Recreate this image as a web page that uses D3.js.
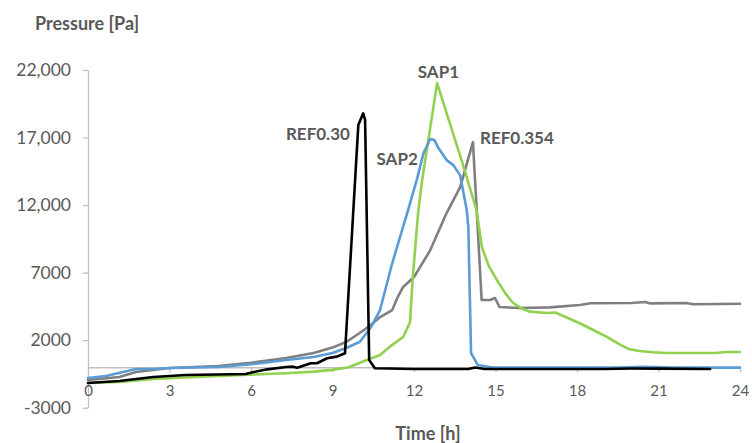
<!DOCTYPE html>
<html>
<head>
<meta charset="utf-8">
<script src="https://cdn.jsdelivr.net/npm/d3@7"></script>
<style>
  html, body { margin: 0; padding: 0; background: #ffffff; }
  svg { display: block; font-family: Lato, "Open Sans", sans-serif; }
</style>
</head>
<body>
<svg id="chart" width="752" height="443"></svg>
<script>
// ---- data (time in hours, pressure in Pa) ----
const seriesNames = ["REF0.354", "SAP1", "SAP2", "REF0.30"];

const timeREF0354 = [0, 1.15, 1.77, 3, 4.8, 6.0, 7.3, 8.3, 9.0, 9.5, 10, 10.4, 10.75, 11.2, 11.4, 11.6, 12.0, 12.6, 13.2, 13.7, 14.17, 14.49, 14.8, 14.98, 15.15, 15.9, 17.0, 18.1, 18.5, 20.0, 20.5, 20.7, 22.0, 22.3, 24];
const pressREF0354 = [-950, -730, -360, -60, 90, 330, 680, 1050, 1450, 1860, 2530, 3100, 3710, 4230, 5190, 5940, 6670, 8670, 11410, 13330, 16660, 4970, 4970, 5120, 4450, 4380, 4430, 4600, 4730, 4750, 4820, 4720, 4750, 4660, 4690];

const timeSAP1 = [0, 1.15, 2.4, 4.8, 7.3, 8.3, 9.0, 9.6, 10.1, 10.75, 11.1, 11.6, 11.85, 11.95, 12.15, 12.3, 12.85, 13.75, 14.3, 14.5, 14.75, 15.05, 15.35, 15.65, 16.0, 16.27, 16.9, 17.2, 17.6, 18.1, 18.6, 19.1, 19.6, 19.9, 20.3, 20.8, 21.3, 23.1, 23.5, 24];
const pressSAP1 = [-1170, -1100, -870, -650, -450, -330, -200, 0, 400, 900, 1500, 2230, 3300, 6500, 11400, 13850, 21030, 15330, 11640, 8890, 7500, 6450, 5500, 4750, 4300, 4110, 4010, 4050, 3700, 3250, 2750, 2240, 1650, 1350, 1200, 1100, 1050, 1050, 1120, 1120];

const timeSAP2 = [0, 0.66, 1.77, 2.4, 3, 4.8, 6.0, 7.3, 8.3, 9.0, 9.5, 10, 10.4, 10.75, 11.2, 11.75, 12.1, 12.35, 12.6, 12.75, 12.9, 13.2, 13.45, 13.7, 13.94, 14.0, 14.1, 14.35, 14.9, 19.5, 20.5, 21.5, 24];
const pressSAP2 = [-800, -650, -130, -130, -60, 15, 220, 530, 750, 1050, 1420, 1860, 2900, 4230, 7710, 11410, 13850, 15850, 16890, 16810, 16220, 15330, 14960, 14200, 11640, 10400, 1050, 160, -30, -30, 30, -30, -30];

const timeREF030 = [0, 1.15, 2.4, 3.6, 5.8, 6.1, 6.6, 7.3, 7.55, 7.7, 8.2, 8.43, 8.8, 9.16, 9.46, 9.95, 10.13, 10.2, 10.35, 10.56, 12, 14, 14.25, 14.6, 17, 19, 20, 21, 22.9];
const pressREF030 = [-1170, -1020, -730, -580, -500, -360, -160, 15, 40, -40, 290, 290, 660, 780, 1030, 17920, 18790, 18300, 530, -80, -130, -130, -30, -130, -130, -130, -100, -110, -130];

const xTickValues = [0, 3, 6, 9, 12, 15, 18, 21, 24];
const xTickLabels = ["0", "3", "6", "9", "12", "15", "18", "21", "24"];
const yTickValues = [-3000, 2000, 7000, 12000, 17000, 22000];
const yTickLabels = ["-3000", "2000", "7000", "12,000", "17,000", "22,000"];

const yTitle = "Pressure [Pa]";
const xTitle = "Time [h]";

// ---- build ----
const series = [
  { name: "REF0.354", t: timeREF0354, v: pressREF0354, color: "#7f7f7f" },
  { name: "SAP1", t: timeSAP1, v: pressSAP1, color: "#92d050" },
  { name: "SAP2", t: timeSAP2, v: pressSAP2, color: "#5b9bd5" },
  { name: "REF0.30", t: timeREF030, v: pressREF030, color: "#000000" }
];

const svg = d3.select("#chart");
const x = d3.scaleLinear().domain([0, 24]).range([88, 740]);
const y = d3.scaleLinear().domain([-3000, 22000]).range([407.7, 70]);

const axisColor = "#bfbfbf";
const textColor = "#595959";

// y axis
const yAxis = svg.append("g")
  .attr("transform", `translate(${x(0)},0)`)
  .call(d3.axisLeft(y).tickValues(yTickValues).tickSize(5).tickSizeOuter(0).tickPadding(12)
    .tickFormat((d, i) => yTickLabels[i]));
yAxis.select(".domain").attr("stroke", axisColor).attr("stroke-width", 1.3);
yAxis.selectAll(".tick line").attr("stroke", axisColor).attr("stroke-width", 1.3);
yAxis.selectAll(".tick text").attr("fill", textColor).attr("font-size", "17.5px")
  .attr("font-family", "Lato, sans-serif");

// x axis at y = 0
const xAxis = svg.append("g")
  .attr("transform", `translate(0,${y(0)})`)
  .call(d3.axisBottom(x).tickValues(xTickValues).tickSize(5).tickSizeOuter(0).tickPadding(13)
    .tickFormat((d, i) => xTickLabels[i]));
xAxis.select(".domain").attr("stroke", axisColor).attr("stroke-width", 1.5);
xAxis.selectAll(".tick line").attr("stroke", axisColor).attr("stroke-width", 1.3);
xAxis.selectAll(".tick text").attr("fill", textColor).attr("font-size", "15px")
  .attr("font-family", "Lato, sans-serif");

// lines
const line = d3.line()
  .x(d => x(d[0]))
  .y(d => y(d[1]))
  .curve(d3.curveLinear);

svg.append("g").selectAll("path")
  .data(series)
  .join("path")
  .attr("d", s => line(s.t.map((t, i) => [t, s.v[i]])))
  .attr("fill", "none")
  .attr("stroke", s => s.color)
  .attr("stroke-width", 2.6)
  .attr("stroke-linejoin", "round")
  .attr("stroke-linecap", "round");

// titles
svg.append("text").text(yTitle)
  .attr("x", 35).attr("y", 30)
  .attr("fill", textColor).attr("font-size", "18px").attr("font-weight", "bold");
svg.append("text").text(xTitle)
  .attr("x", 428).attr("y", 440).attr("text-anchor", "middle")
  .attr("fill", textColor).attr("font-size", "18px").attr("font-weight", "bold");

// series labels
const labelPos = [
  { name: "SAP1", t: 12.9, v: 21400, anchor: "middle" },
  { name: "REF0.30", t: 9.64, v: 16800, anchor: "end" },
  { name: "SAP2", t: 12.14, v: 15000, anchor: "end" },
  { name: "REF0.354", t: 14.43, v: 16550, anchor: "start" }
];
svg.append("g").selectAll("text")
  .data(labelPos)
  .join("text")
  .text(d => d.name)
  .attr("x", d => x(d.t))
  .attr("y", d => y(d.v))
  .attr("text-anchor", d => d.anchor)
  .attr("fill", textColor)
  .attr("font-size", "17px")
  .attr("font-weight", "bold");
</script>
</body>
</html>
